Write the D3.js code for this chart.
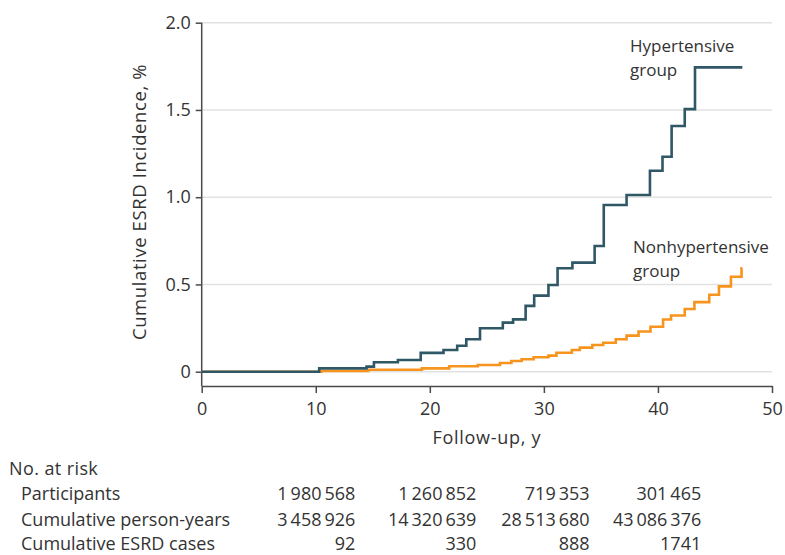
<!DOCTYPE html>
<html>
<head>
<meta charset="utf-8">
<script src="https://cdn.jsdelivr.net/npm/d3@7"></script>
<style>
  html, body { margin: 0; padding: 0; background: #fff; }
  svg { display: block; }
  text { font-family: "Open Sans", "Noto Sans", sans-serif; fill: #333; }
</style>
</head>
<body>
<svg id="chart" width="785" height="555"></svg>
<script>
// Cumulative ESRD incidence (%) by follow-up year; each entry is a step (time, cumulative value)
const hyperTimes = [0, 10.3, 14.45, 15.1, 17.2, 19.2, 21.2, 22.4, 23.2, 24.4, 26.4, 27.3, 28.4, 29.15,
  30.4, 31.2, 32.5, 34.45, 35.25, 37.25, 39.3, 40.4, 41.2, 42.35, 43.25];
const hyperCum = [0, 0.019, 0.029, 0.054, 0.067, 0.108, 0.124, 0.149, 0.186, 0.249, 0.281, 0.300, 0.377, 0.436,
  0.497, 0.593, 0.625, 0.720, 0.955, 1.013, 1.152, 1.232, 1.408, 1.505, 1.744];

const nonhyperTimes = [0, 10.5, 14.6, 19.3, 21.7, 24.2, 26.15, 27.15, 28.05, 29.1, 30.4, 31.1, 32.45, 33.15,
  34.25, 35.2, 36.3, 37.25, 38.3, 39.35, 40.45, 41.15, 42.35, 43.2, 44.5, 45.35, 46.4, 47.33];
const nonhyperCum = [0, 0.004, 0.011, 0.019, 0.031, 0.038, 0.050, 0.061, 0.071, 0.083, 0.092, 0.109, 0.124, 0.138,
  0.153, 0.166, 0.186, 0.207, 0.230, 0.258, 0.299, 0.322, 0.359, 0.399, 0.441, 0.489, 0.544, 0.593];

const followUpEnd = 47.4;

const seriesNames = ["Hypertensive", "Nonhypertensive"];

const xTicks = [0, 10, 20, 30, 40, 50];
const yTicks = [0, 0.5, 1.0, 1.5, 2.0];

// Numbers at risk table
const riskYears = [10, 20, 30, 40];
const rowLabels = ["Participants", "Cumulative person-years", "Cumulative ESRD cases"];
const participants = [1980568, 1260852, 719353, 301465];
const personYears = [3458926, 14320639, 28513680, 43086376];
const esrdCases = [92, 330, 888, 1741];

const svg = d3.select("#chart");

const x = d3.scaleLinear().domain([0, 50]).range([201.7, 772]);
const y = d3.scaleLinear().domain([0, 2]).range([371.7, 22.7]);
const axisY = 386;

// gridlines
svg.append("g")
  .selectAll("line")
  .data(yTicks)
  .join("line")
  .attr("x1", x(0)).attr("x2", x(50))
  .attr("y1", d => y(d)).attr("y2", d => y(d))
  .attr("stroke", "#e2e2e2")
  .attr("stroke-width", 1.5);

// y axis
const yAxis = d3.axisLeft(y)
  .tickValues(yTicks)
  .tickFormat(d => d === 0 ? "0" : d3.format(".1f")(d))
  .tickSize(6)
  .tickPadding(5);
const gy = svg.append("g").attr("transform", `translate(${x(0)},0)`).call(yAxis);
gy.select(".domain").remove();
gy.selectAll(".tick line").attr("stroke", "#4a4a4a").attr("stroke-width", 1.5);
gy.selectAll(".tick text").style("font-size", "18px").attr("fill", "#333");
svg.append("line")
  .attr("x1", x(0)).attr("x2", x(0))
  .attr("y1", y(2)).attr("y2", axisY)
  .attr("stroke", "#4a4a4a").attr("stroke-width", 1.5);

// x axis
const xAxis = d3.axisBottom(x)
  .tickValues(xTicks)
  .tickFormat(d3.format("d"))
  .tickSizeInner(7)
  .tickSizeOuter(0)
  .tickPadding(9);
const gx = svg.append("g").attr("transform", `translate(0,${axisY})`).call(xAxis);
gx.select(".domain").attr("stroke", "#4a4a4a").attr("stroke-width", 1.5);
gx.selectAll(".tick line").attr("stroke", "#4a4a4a").attr("stroke-width", 1.5);
gx.selectAll(".tick text").style("font-size", "18px").attr("fill", "#333");

// axis titles
svg.append("text")
  .attr("transform", "translate(146,202) rotate(-90)")
  .attr("text-anchor", "middle")
  .style("font-size", "18.5px")
  .style("letter-spacing", "0.6px")
  .text("Cumulative ESRD Incidence, %");

svg.append("text")
  .attr("x", x(25)).attr("y", 444)
  .attr("text-anchor", "middle")
  .style("font-size", "18px")
  .style("letter-spacing", "0.7px")
  .text("Follow-up, y");

// step curves
function stepPoints(times, values) {
  const pts = times.map((t, i) => [t, values[i]]);
  pts.push([followUpEnd, values[values.length - 1]]);
  return pts;
}
const line = d3.line()
  .x(d => x(d[0]))
  .y(d => y(d[1]))
  .curve(d3.curveStepAfter);

svg.append("path")
  .datum(stepPoints(nonhyperTimes, nonhyperCum))
  .attr("fill", "none")
  .attr("stroke", "#f7941d")
  .attr("stroke-width", 2.6)
  .attr("d", line);

svg.append("path")
  .datum(stepPoints(hyperTimes, hyperCum))
  .attr("fill", "none")
  .attr("stroke", "#2f5766")
  .attr("stroke-width", 2.6)
  .attr("d", line);

// series labels
const labelGroups = [
  { name: seriesNames[0], x: 630, y: 51.5 },
  { name: seriesNames[1], x: 633, y: 253 }
];
labelGroups.forEach(l => {
  const t = svg.append("text").attr("x", l.x).attr("y", l.y).style("font-size", "17px");
  t.append("tspan").attr("x", l.x).text(l.name);
  t.append("tspan").attr("x", l.x).attr("dy", 24).text("group");
});

// numbers at risk
function groupDigits(n) {
  const s = String(n);
  if (s.length <= 4) return s;
  return s.replace(/\B(?=(\d{3})+(?!\d))/g, "\u2009");
}

svg.append("text")
  .attr("x", 9).attr("y", 474.5)
  .style("font-size", "18px")
  .style("letter-spacing", "0.4px")
  .text("No. at risk");

const rowBase = [500, 525.5, 550];
const rowData = [participants, personYears, esrdCases];
// right edge of each count column, a little to the right of its year tick
const colOffset = [39.6, 46.5, 45.7, 43.3];
const colRight = riskYears.map((t, i) => x(t) + colOffset[i]);

rowLabels.forEach((lab, r) => {
  svg.append("text")
    .attr("x", 21).attr("y", rowBase[r])
    .style("font-size", "18px")
    .text(lab);
  svg.append("g")
    .selectAll("text")
    .data(rowData[r])
    .join("text")
    .attr("x", (d, i) => colRight[i])
    .attr("y", rowBase[r])
    .attr("text-anchor", "end")
    .style("font-size", "18px")
    .text(d => groupDigits(d));
});
</script>
</body>
</html>
